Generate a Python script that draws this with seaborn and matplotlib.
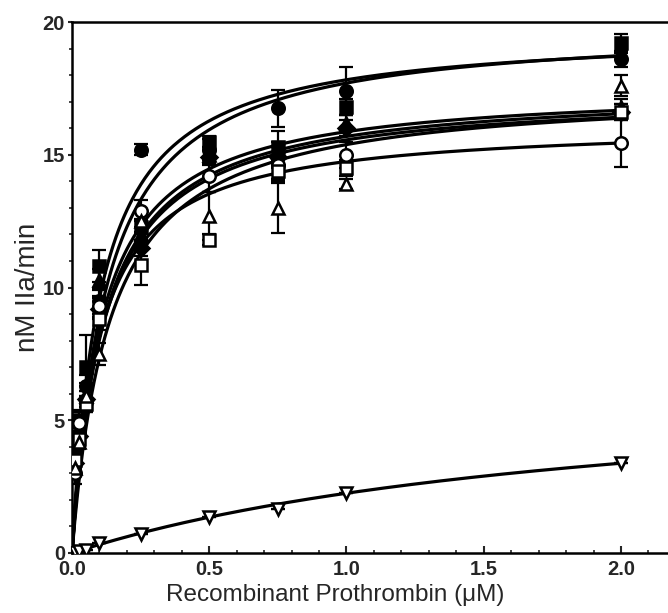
import numpy as np
import pandas as pd
import seaborn as sns
import matplotlib.pyplot as plt
from matplotlib.ticker import MultipleLocator

# substrate concentrations (uM)
conc = [0, 0.01, 0.025, 0.05, 0.1, 0.25, 0.5, 0.75, 1.0, 2.0]

# rates (nM IIa/min), one list per variant
filled_circle = [0, 3.8, 4.5, 6.3, 9.5, 15.2, 15.2, 16.75, 17.4, 18.6]
filled_circle_err = [0, 0.3, 0.3, 0.4, 0.5, 0.2, 0.4, 0.7, 0.9, 0.3]
filled_square = [0, 4.0, 5.0, 7.0, 10.8, 12.3, 15.5, 15.3, 16.8, 19.2]
filled_square_err = [0, 0.4, 0.4, 1.2, 0.6, 0.3, 0.2, 0.6, 0.3, 0.35]
filled_triangle = [0, 3.6, 4.6, 6.0, 10.3, 12.0, 15.0, 15.1, 16.2, 16.8]
filled_triangle_err = [0, 0.3, 0.3, 0.4, 0.4, 0.3, 0.3, 0.4, 0.3, 0.3]
filled_diamond = [0, 3.4, 4.4, 5.8, 9.2, 11.5, 14.9, 14.9, 16.0, 16.6]
filled_diamond_err = [0, 0.3, 0.3, 0.3, 0.4, 0.3, 0.3, 0.4, 0.3, 0.3]
open_circle = [0, 3.0, 4.9, 5.7, 9.3, 12.9, 14.2, 14.6, 15.0, 15.45]
open_circle_err = [0, 0.4, 0.4, 0.4, 0.4, 0.4, 0.6, 0.5, 0.5, 0.9]
open_square = [0, 3.5, 4.3, 5.6, 8.8, 10.85, 11.8, 14.4, 14.5, 16.6]
open_square_err = [0, 0.3, 0.3, 0.3, 0.4, 0.75, 0.2, 0.4, 0.3, 0.3]
open_triangle = [0, 3.2, 4.2, 5.9, 7.5, 12.5, 12.7, 13.0, 13.9, 17.6]
open_triangle_err = [0, 0.3, 0.3, 0.4, 0.4, 0.4, 0.9, 0.95, 0.2, 0.4]
open_invtriangle = [0, 0.03, 0.08, 0.11, 0.38, 0.73, 1.37, 1.66, 2.25, 3.38]
open_invtriangle_err = [0, 0, 0, 0, 0, 0, 0, 0, 0, 0]

# Michaelis-Menten fit parameters
vmax = [19.7, 19.9, 17.57, 17.5, 16.21, 17.37, 17.51, 6.79]
km = [0.105, 0.124, 0.107, 0.115, 0.099, 0.116, 0.138, 2.016]

series = [
    (filled_circle, filled_circle_err, 'o', 'black'),
    (filled_square, filled_square_err, 's', 'black'),
    (filled_triangle, filled_triangle_err, '^', 'black'),
    (filled_diamond, filled_diamond_err, 'D', 'black'),
    (open_circle, open_circle_err, 'o', 'white'),
    (open_square, open_square_err, 's', 'white'),
    (open_triangle, open_triangle_err, '^', 'white'),
    (open_invtriangle, open_invtriangle_err, 'v', 'white'),
]

sns.set_style('ticks')
plt.rcParams['font.family'] = ['Liberation Sans', 'DejaVu Sans']

fig = plt.figure(figsize=(6.68, 6.13), dpi=100)
ax = fig.add_axes([0.1078, 0.0979, 0.904, 0.866])

xs = np.linspace(0, 2.0, 400)
for i, (vm, k) in enumerate(zip(vmax, km)):
    fit = pd.DataFrame({'x': xs, 'y': vm * xs / (k + xs)})
    sns.lineplot(data=fit, x='x', y='y', ax=ax, color='black', lw=2.3, zorder=2)

for vals, err, mk, face in series:
    ms = 8 if mk == 'D' else 9
    ax.errorbar(conc, vals, yerr=err, fmt='none', ecolor='black',
                elinewidth=1.6, capsize=5, capthick=1.6, zorder=3)
    ax.plot(conc, vals, linestyle='none', marker=mk, markersize=ms,
            markerfacecolor=face, markeredgecolor='black', markeredgewidth=1.8,
            zorder=4)

ax.set_xlim(0, 2.2)
ax.set_ylim(0, 20)
ax.set_xticks([0.0, 0.5, 1.0, 1.5, 2.0])
ax.set_xticklabels(['0.0', '0.5', '1.0', '1.5', '2.0'])
ax.set_yticks([0, 5, 10, 15, 20])
ax.xaxis.set_minor_locator(MultipleLocator(0.1))
ax.yaxis.set_minor_locator(MultipleLocator(1))
ax.tick_params(axis='x', which='major', direction='in', length=5, width=1.5,
               labelsize=14.5, pad=5)
ax.tick_params(axis='x', which='minor', direction='in', length=2.5, width=1.2)
ax.tick_params(axis='y', which='major', direction='out', length=3, width=1.5,
               labelsize=14.5, pad=2)
ax.tick_params(axis='y', which='minor', direction='out', length=2, width=1.2)
for lab in ax.get_xticklabels() + ax.get_yticklabels():
    lab.set_fontweight('bold')

for side in ['left', 'bottom', 'top', 'right']:
    ax.spines[side].set_linewidth(1.8)
    ax.spines[side].set_color('black')

ax.set_xlabel('Recombinant Prothrombin (\u03bcM)', fontsize=17.5, labelpad=4)
ax.set_ylabel('nM IIa/min', fontsize=20, labelpad=1)
ax.xaxis.set_label_coords(0.435, -0.058)

fig.savefig('out.png', dpi=100)
